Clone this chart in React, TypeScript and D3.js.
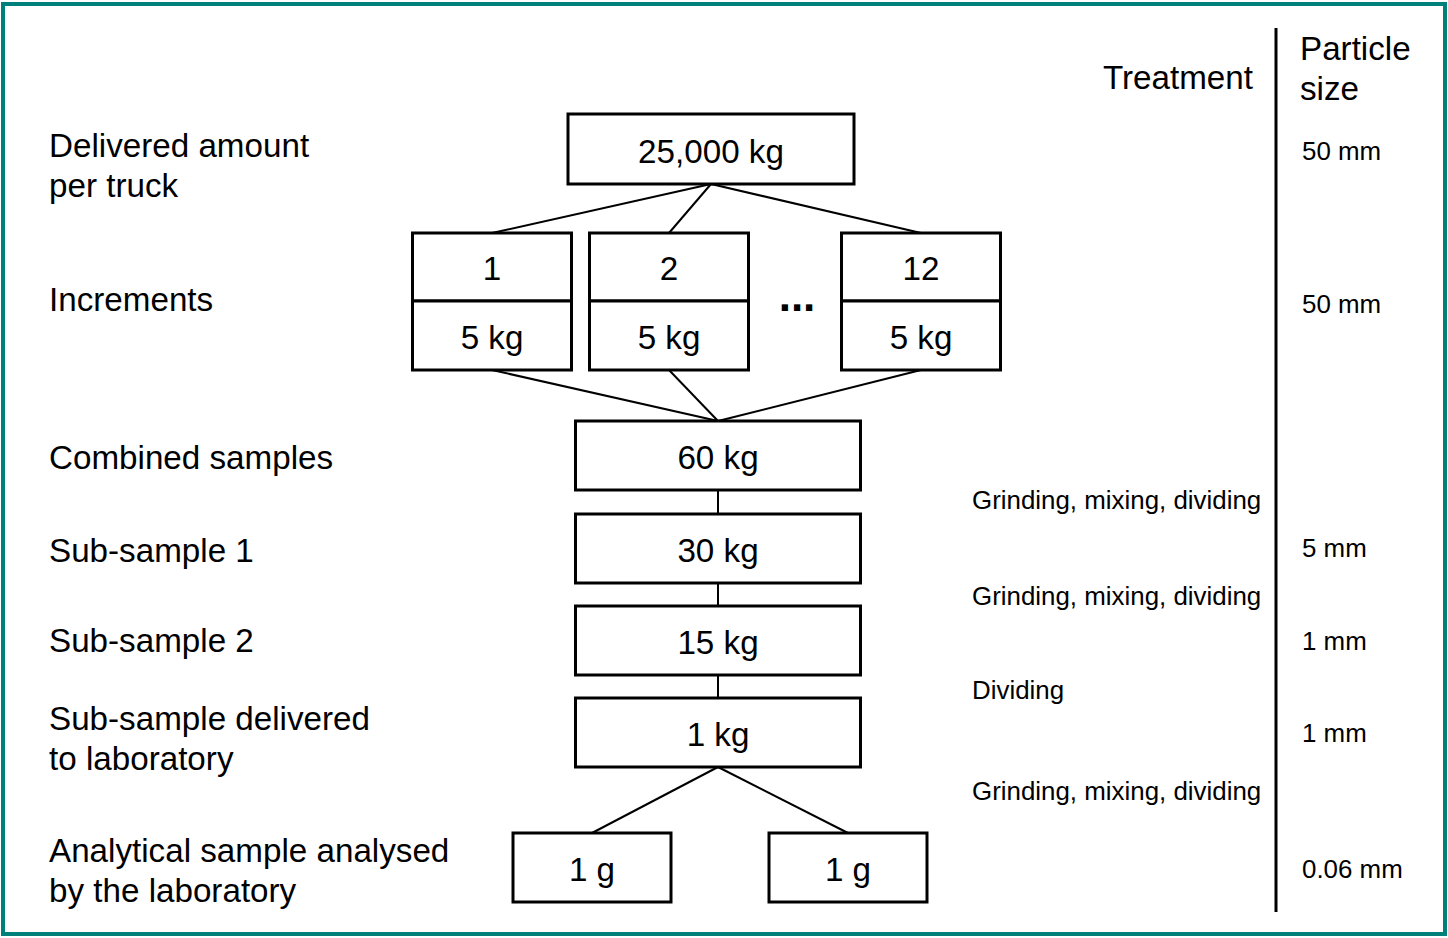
import React, { useEffect, useRef } from 'react';
import * as d3 from 'd3';

// diagram content
const stageLabels = [
  ["Delivered amount", "per truck"],
  ["Increments"],
  ["Combined samples"],
  ["Sub-sample 1"],
  ["Sub-sample 2"],
  ["Sub-sample delivered", "to laboratory"],
  ["Analytical sample analysed", "by the laboratory"],
];
const truckMass = "25,000 kg";
const incrementIds = ["1", "2", "12"];
const incrementMass = "5 kg";
const chainMasses = ["60 kg", "30 kg", "15 kg", "1 kg"];
const analyticalMasses = ["1 g", "1 g"];
const treatments = ["Grinding, mixing, dividing", "Grinding, mixing, dividing", "Dividing", "Grinding, mixing, dividing"];
const particleSizes = ["50 mm", "50 mm", null, "5 mm", "1 mm", "1 mm", "0.06 mm"];

// layout
const width = 1448;
const height = 938;
const font = "'Liberation Sans', Arial, Helvetica, sans-serif";
const bigFont = 33.2;
const smallFont = 25.9;
const labelY = [145, 299, 457, 550, 640, 718, 850];
const sizeY = [151, 304, null, 548, 641, 733, 869];
const treatmentY = [500, 596, 690, 791];
const lineGap = 40;

function Diagram() {
  const ref = useRef<SVGSVGElement>(null);

  useEffect(() => {
    const svg = d3.select(ref.current)
      .attr("width", width)
      .attr("height", height)
      .attr("viewBox", [0, 0, width, height] as any);
    svg.selectAll("*").remove();

    svg.append("rect")
      .attr("width", width).attr("height", height).attr("fill", "#fff");

    // teal frame
    svg.append("rect")
      .attr("x", 3).attr("y", 4)
      .attr("width", 1442).attr("height", 930)
      .attr("fill", "none")
      .attr("stroke", "#00807a")
      .attr("stroke-width", 4);

    const g = svg.append("g")
      .attr("font-family", font)
      .attr("fill", "#000");

    // left stage labels
    stageLabels.forEach((lines, i) => {
      lines.forEach((t, j) => {
        g.append("text")
          .attr("x", 49)
          .attr("y", labelY[i] + j * lineGap)
          .attr("dominant-baseline", "central")
          .attr("font-size", bigFont)
          .text(t);
      });
    });

    const box = (cx: number, y: number, w: number, h: number) => {
      svg.append("rect")
        .attr("x", cx - w / 2).attr("y", y)
        .attr("width", w).attr("height", h)
        .attr("fill", "#fff")
        .attr("stroke", "#000")
        .attr("stroke-width", 3);
    };
    const boxText = (cx: number, cy: number, t: string) => {
      svg.append("text")
        .attr("x", cx).attr("y", cy)
        .attr("text-anchor", "middle")
        .attr("dominant-baseline", "central")
        .attr("font-family", font)
        .attr("font-size", bigFont)
        .text(t);
    };
    const link = (x1: number, y1: number, x2: number, y2: number) => {
      svg.append("line")
        .attr("x1", x1).attr("y1", y1).attr("x2", x2).attr("y2", y2)
        .attr("stroke", "#000")
        .attr("stroke-width", 2);
    };

    // geometry of the boxes
    const top = { cx: 711, y: 114, w: 286, h: 70 };
    const incX = d3.scaleOrdinal<string, number>().domain(incrementIds).range([492, 669, 921]);
    const inc = { y: 233, w: 159, h: 137, mid: 301 };
    const chain = { cx: 718, w: 285, h: 69 };
    const chainY = d3.scaleOrdinal<string, number>().domain(chainMasses.map((_, i) => String(i))).range([421, 514, 606, 698]);
    const finalX = d3.scaleOrdinal<string, number>().domain(analyticalMasses.map((_, i) => String(i))).range([592, 848]);
    const fin = { y: 833, w: 158, h: 69 };

    // connectors first
    incrementIds.forEach(id => link(top.cx, top.y + top.h, incX(id), inc.y));
    incrementIds.forEach(id => link(incX(id), inc.y + inc.h, chain.cx, chainY("0")));
    chainMasses.forEach((_, i) => {
      if (i > 0) link(chain.cx, chainY(String(i - 1)) + chain.h, chain.cx, chainY(String(i)));
    });
    const last = chainY(String(chainMasses.length - 1)) + chain.h;
    analyticalMasses.forEach((_, i) => link(chain.cx, last, finalX(String(i)), fin.y));

    // boxes
    box(top.cx, top.y, top.w, top.h);
    boxText(top.cx, top.y + top.h / 2 + 2, truckMass);

    incrementIds.forEach(id => {
      const cx = incX(id);
      box(cx, inc.y, inc.w, inc.mid - inc.y);
      box(cx, inc.mid, inc.w, inc.y + inc.h - inc.mid);
      boxText(cx, (inc.y + inc.mid) / 2 + 1, id);
      boxText(cx, (inc.mid + inc.y + inc.h) / 2 + 2, incrementMass);
    });
    svg.append("text")
      .attr("x", 797).attr("y", 311)
      .attr("text-anchor", "middle")
      .attr("font-family", font)
      .attr("font-weight", "bold")
      .attr("font-size", 44)
      .text("...");

    chainMasses.forEach((m, i) => {
      const y = chainY(String(i));
      box(chain.cx, y, chain.w, chain.h);
      boxText(chain.cx, y + chain.h / 2 + 2, m);
    });

    analyticalMasses.forEach((m, i) => {
      const cx = finalX(String(i));
      box(cx, fin.y, fin.w, fin.h);
      boxText(cx, fin.y + fin.h / 2 + 2, m);
    });

    // right-hand columns
    g.append("text")
      .attr("x", 1253).attr("y", 77)
      .attr("text-anchor", "end")
      .attr("dominant-baseline", "central")
      .attr("font-size", bigFont)
      .text("Treatment");
    ["Particle", "size"].forEach((t, j) => {
      g.append("text")
        .attr("x", 1300).attr("y", 48 + j * lineGap)
        .attr("dominant-baseline", "central")
        .attr("font-size", bigFont)
        .text(t);
    });

    svg.append("line")
      .attr("x1", 1276).attr("x2", 1276)
      .attr("y1", 28).attr("y2", 912)
      .attr("stroke", "#000")
      .attr("stroke-width", 3);

    treatments.forEach((t, i) => {
      g.append("text")
        .attr("x", 972).attr("y", treatmentY[i])
        .attr("dominant-baseline", "central")
        .attr("font-size", smallFont)
        .text(t);
    });

    particleSizes.forEach((s, i) => {
      if (!s) return;
      g.append("text")
        .attr("x", 1302).attr("y", sizeY[i] as number)
        .attr("dominant-baseline", "central")
        .attr("font-size", smallFont)
        .text(s);
    });
  }, []);

  return <svg ref={ref} style={{ position: "absolute", left: 0, top: 0, display: "block" }} />;
}

export default function App() {
  return <Diagram />;
}
